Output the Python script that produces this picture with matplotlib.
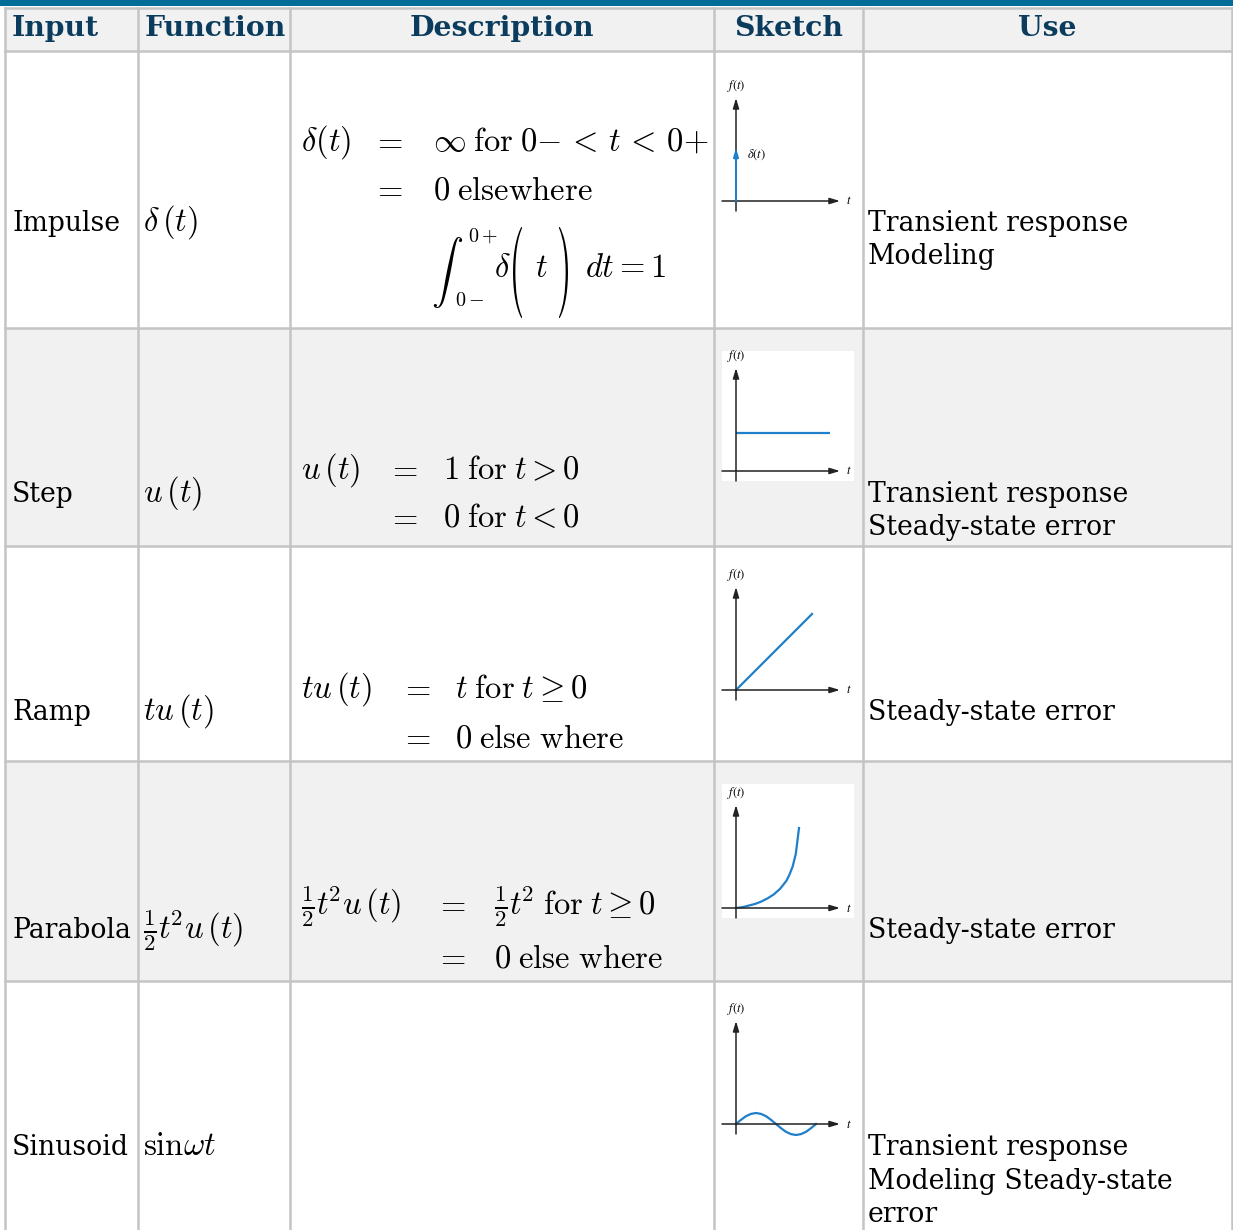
import matplotlib
matplotlib.use("Agg")
import matplotlib.pyplot as plt
from matplotlib.patches import Rectangle, PathPatch
from matplotlib.textpath import TextPath
from matplotlib.font_manager import FontProperties
from matplotlib.transforms import Affine2D

W, H = 1233, 1230
plt.rcParams['mathtext.fontset'] = 'cm'

# table content
headers = ["Input", "Function", "Description", "Sketch", "Use"]
inputs = ["Impulse", "Step", "Ramp", "Parabola", "Sinusoid"]
functions = [r"$\delta\,(t)$", r"$u\,(t)$", r"$tu\,(t)$",
             r"$\frac{1}{2}t^{\!2}u\,(t)$", r"$\mathrm{sin}\omega t$"]
desc_left = [r"$\delta(t)$", r"$u\,(t)$", r"$tu\,(t)$", r"$\frac{1}{2}t^{\!2}u\,(t)$", ""]
desc_right = [
    [r"$\infty\;\mathrm{for}\;0{-}\,<\,t\,<\,0{+}$", r"$0\;\mathrm{elsewhere}$"],
    [r"$1\;\mathrm{for}\;t>0$", r"$0\;\mathrm{for}\;t<0$"],
    [r"$t\;\mathrm{for}\;t\geq 0$", r"$0\;\mathrm{else\ where}$"],
    [r"$\frac{1}{2}t^{\!2}\;\mathrm{for}\;t\geq 0$", r"$0\;\mathrm{else\ where}$"],
    [],
]
uses = [["Transient response", "Modeling"],
        ["Transient response", "Steady-state error"],
        ["Steady-state error"],
        ["Steady-state error"],
        ["Transient response", "Modeling Steady-state", "error"]]

# sketch curves (normalised units)
step_t = [0, 1]
step_f = [1, 1]
ramp_t = [0, 1]
ramp_f = [0, 1]
para_t = [0, 0.1, 0.2, 0.3, 0.4, 0.5, 0.6, 0.7, 0.8, 0.85, 0.9, 0.95, 1.0]
para_f = [0, 0.01, 0.03, 0.05, 0.08, 0.12, 0.17, 0.24, 0.34, 0.42, 0.52, 0.68, 1.0]
sin_t = [0, 0.0625, 0.125, 0.1875, 0.25, 0.3125, 0.375, 0.4375, 0.5,
         0.5625, 0.625, 0.6875, 0.75, 0.8125, 0.875, 0.9375, 1.0]
sin_f = [0, 0.38, 0.71, 0.92, 1, 0.92, 0.71, 0.38, 0,
         -0.38, -0.71, -0.92, -1, -0.92, -0.71, -0.38, 0]

# layout (pixels)
col_x = [5, 138, 290, 714, 863, 1232]
row_y = [8, 51, 328, 546, 761, 981, 1232]
row_bg = ["white", "#f1f1f1", "white", "#f1f1f1", "white"]
line_col = "#c4c4c4"
head_col = "#0b3c5d"
body_font = "DejaVu Serif"
body_size = 19.2
math_size = 23.5
base = [231, 502, 720, 938, 1155]
desc_base = [[151, 199], [479, 527], [698, 747], [914, 967]]
eq_x = [388, 403, 416, 451]
right_x = [433, 443, 455, 494]
use_base = [[231, 264], [502, 535], [720], [938], [1155, 1189, 1222]]
origin_y = [201, 471, 690, 908, 1124]

fig = plt.figure(figsize=(W / 100, H / 100), dpi=100)
ax = fig.add_axes([0, 0, 1, 1])
ax.set_xlim(0, W)
ax.set_ylim(H, 0)
ax.axis('off')

ax.add_patch(Rectangle((0, 0), W, 6, color="#046c98", lw=0))
ax.add_patch(Rectangle((col_x[0], row_y[0]), col_x[-1] - col_x[0], row_y[1] - row_y[0],
                       color="#f1f1f1", lw=0))
for i, bg in enumerate(row_bg):
    ax.add_patch(Rectangle((col_x[0], row_y[i + 1]), col_x[-1] - col_x[0],
                           row_y[i + 2] - row_y[i + 1], color=bg, lw=0))
# white backgrounds of the step and parabola pictures
ax.add_patch(Rectangle((722, 351), 132, 130, color="white", lw=0))
ax.add_patch(Rectangle((722, 784), 132, 134, color="white", lw=0))

for x in col_x:
    ax.plot([x, x], [row_y[0], H], color=line_col, lw=1.8)
for y in row_y[:-1]:
    ax.plot([col_x[0], col_x[-1]], [y, y], color=line_col, lw=1.8)

# header
for i, h in enumerate(headers):
    if i < 2:
        ax.text(col_x[i] + 7, 29, h, ha='left', va='center', fontsize=20.3,
                fontweight='bold', family=body_font, color=head_col)
    else:
        ax.text((col_x[i] + col_x[i + 1]) / 2, 29, h, ha='center', va='center',
                fontsize=20.3, fontweight='bold', family=body_font, color=head_col)

# body rows
for i in range(5):
    ax.text(12, base[i], inputs[i], ha='left', va='baseline', fontsize=body_size,
            family=body_font)
    ax.text(143, base[i], functions[i], ha='left', va='baseline', fontsize=math_size)
    for j, u in enumerate(uses[i]):
        ax.text(868, use_base[i][j], u, ha='left', va='baseline', fontsize=body_size,
                family=body_font)
    if desc_left[i]:
        ax.text(301, desc_base[i][0], desc_left[i], ha='left', va='baseline',
                fontsize=math_size)
        for j, r in enumerate(desc_right[i]):
            ax.text(eq_x[i], desc_base[i][j], r"$=$", ha='center', va='baseline',
                    fontsize=math_size)
            ax.text(right_x[i], desc_base[i][j], r, ha='left', va='baseline',
                    fontsize=math_size)

# integral line of the impulse definition
ax.text(431, 272, r"$\int$", ha='left', va='center', fontsize=23)
ax.text(468, 236, r"$0+$", ha='left', va='center', fontsize=14.5)
ax.text(455, 301, r"$0-$", ha='left', va='center', fontsize=14.5)
ax.text(494, 277, r"$\delta$", ha='left', va='baseline', fontsize=math_size)
ax.text(535, 277, r"$t$", ha='left', va='baseline', fontsize=math_size)
ax.text(585, 277, r"$dt=1$", ha='left', va='baseline', fontsize=math_size)


def tall_paren(ch, x0, x1, y0, y1):
    # stretched computer-modern parenthesis filling the box (x0..x1, y0..y1)
    tp = TextPath((0, 0), ch, size=1, prop=FontProperties(family='cmr10'))
    ext = tp.get_extents()
    tr = (Affine2D().translate(-ext.x0, -ext.y0)
          .scale((x1 - x0) / ext.width, -(y1 - y0) / ext.height)
          .translate(x0, y1))
    ax.add_patch(PathPatch(tr.transform_path(tp), color='black', lw=0))


tall_paren("(", 513, 522, 227, 318)
tall_paren(")", 559, 568, 227, 318)

# sketches
blue = "#1f7fc9"
scales = [(60, 53), (94, 38), (76, 76), (63, 80), (80, 11)]
bx0, bx1 = 720, 860
for i, oy in enumerate(origin_y):
    top, bot = oy - 123, oy + 12
    sa = fig.add_axes([bx0 / W, 1 - bot / H, (bx1 - bx0) / W, (bot - top) / H])
    sa.patch.set_alpha(0)
    sa.axis('off')
    sx, sy = scales[i]
    sa.set_xlim(-16 / sx, 124 / sx)
    sa.set_ylim(-12 / sy, 123 / sy)
    fx, fy = 16 / 140, 12 / 135
    arr = dict(arrowstyle='-|>,head_length=0.6,head_width=0.18', color='#222222', lw=1.1,
               shrinkA=0, shrinkB=0)
    sa.annotate("", xy=(120 / 140, fy), xytext=(2 / 140, fy), xycoords='axes fraction',
                arrowprops=arr)
    sa.annotate("", xy=(fx, 115 / 135), xytext=(fx, 2 / 135), xycoords='axes fraction',
                arrowprops=arr)
    sa.text(fx, 127 / 135, r"$f(t)$", transform=sa.transAxes, ha='center', va='center',
            fontsize=9, math_fontfamily='stix')
    sa.text(129 / 140, fy, r"$t$", transform=sa.transAxes, ha='center', va='center',
            fontsize=9, math_fontfamily='stix')
    if i == 0:
        sa.annotate("", xy=(0, 1), xytext=(0, 0), xycoords='data',
                    arrowprops=dict(arrowstyle='-|>,head_length=0.5,head_width=0.15',
                                    color=blue, lw=1.4, shrinkA=0, shrinkB=0))
        sa.text(37 / 140, 58 / 135, r"$\delta(t)$", transform=sa.transAxes, ha='center',
                va='center', fontsize=9, math_fontfamily='stix')
    elif i == 1:
        sa.plot(step_t, step_f, color=blue, lw=1.6, solid_capstyle='butt')
    elif i == 2:
        sa.plot(ramp_t, ramp_f, color=blue, lw=1.6)
    elif i == 3:
        sa.plot(para_t, para_f, color=blue, lw=1.6)
    else:
        sa.plot(sin_t, sin_f, color=blue, lw=1.6)

fig.savefig("out.png", dpi=100)
